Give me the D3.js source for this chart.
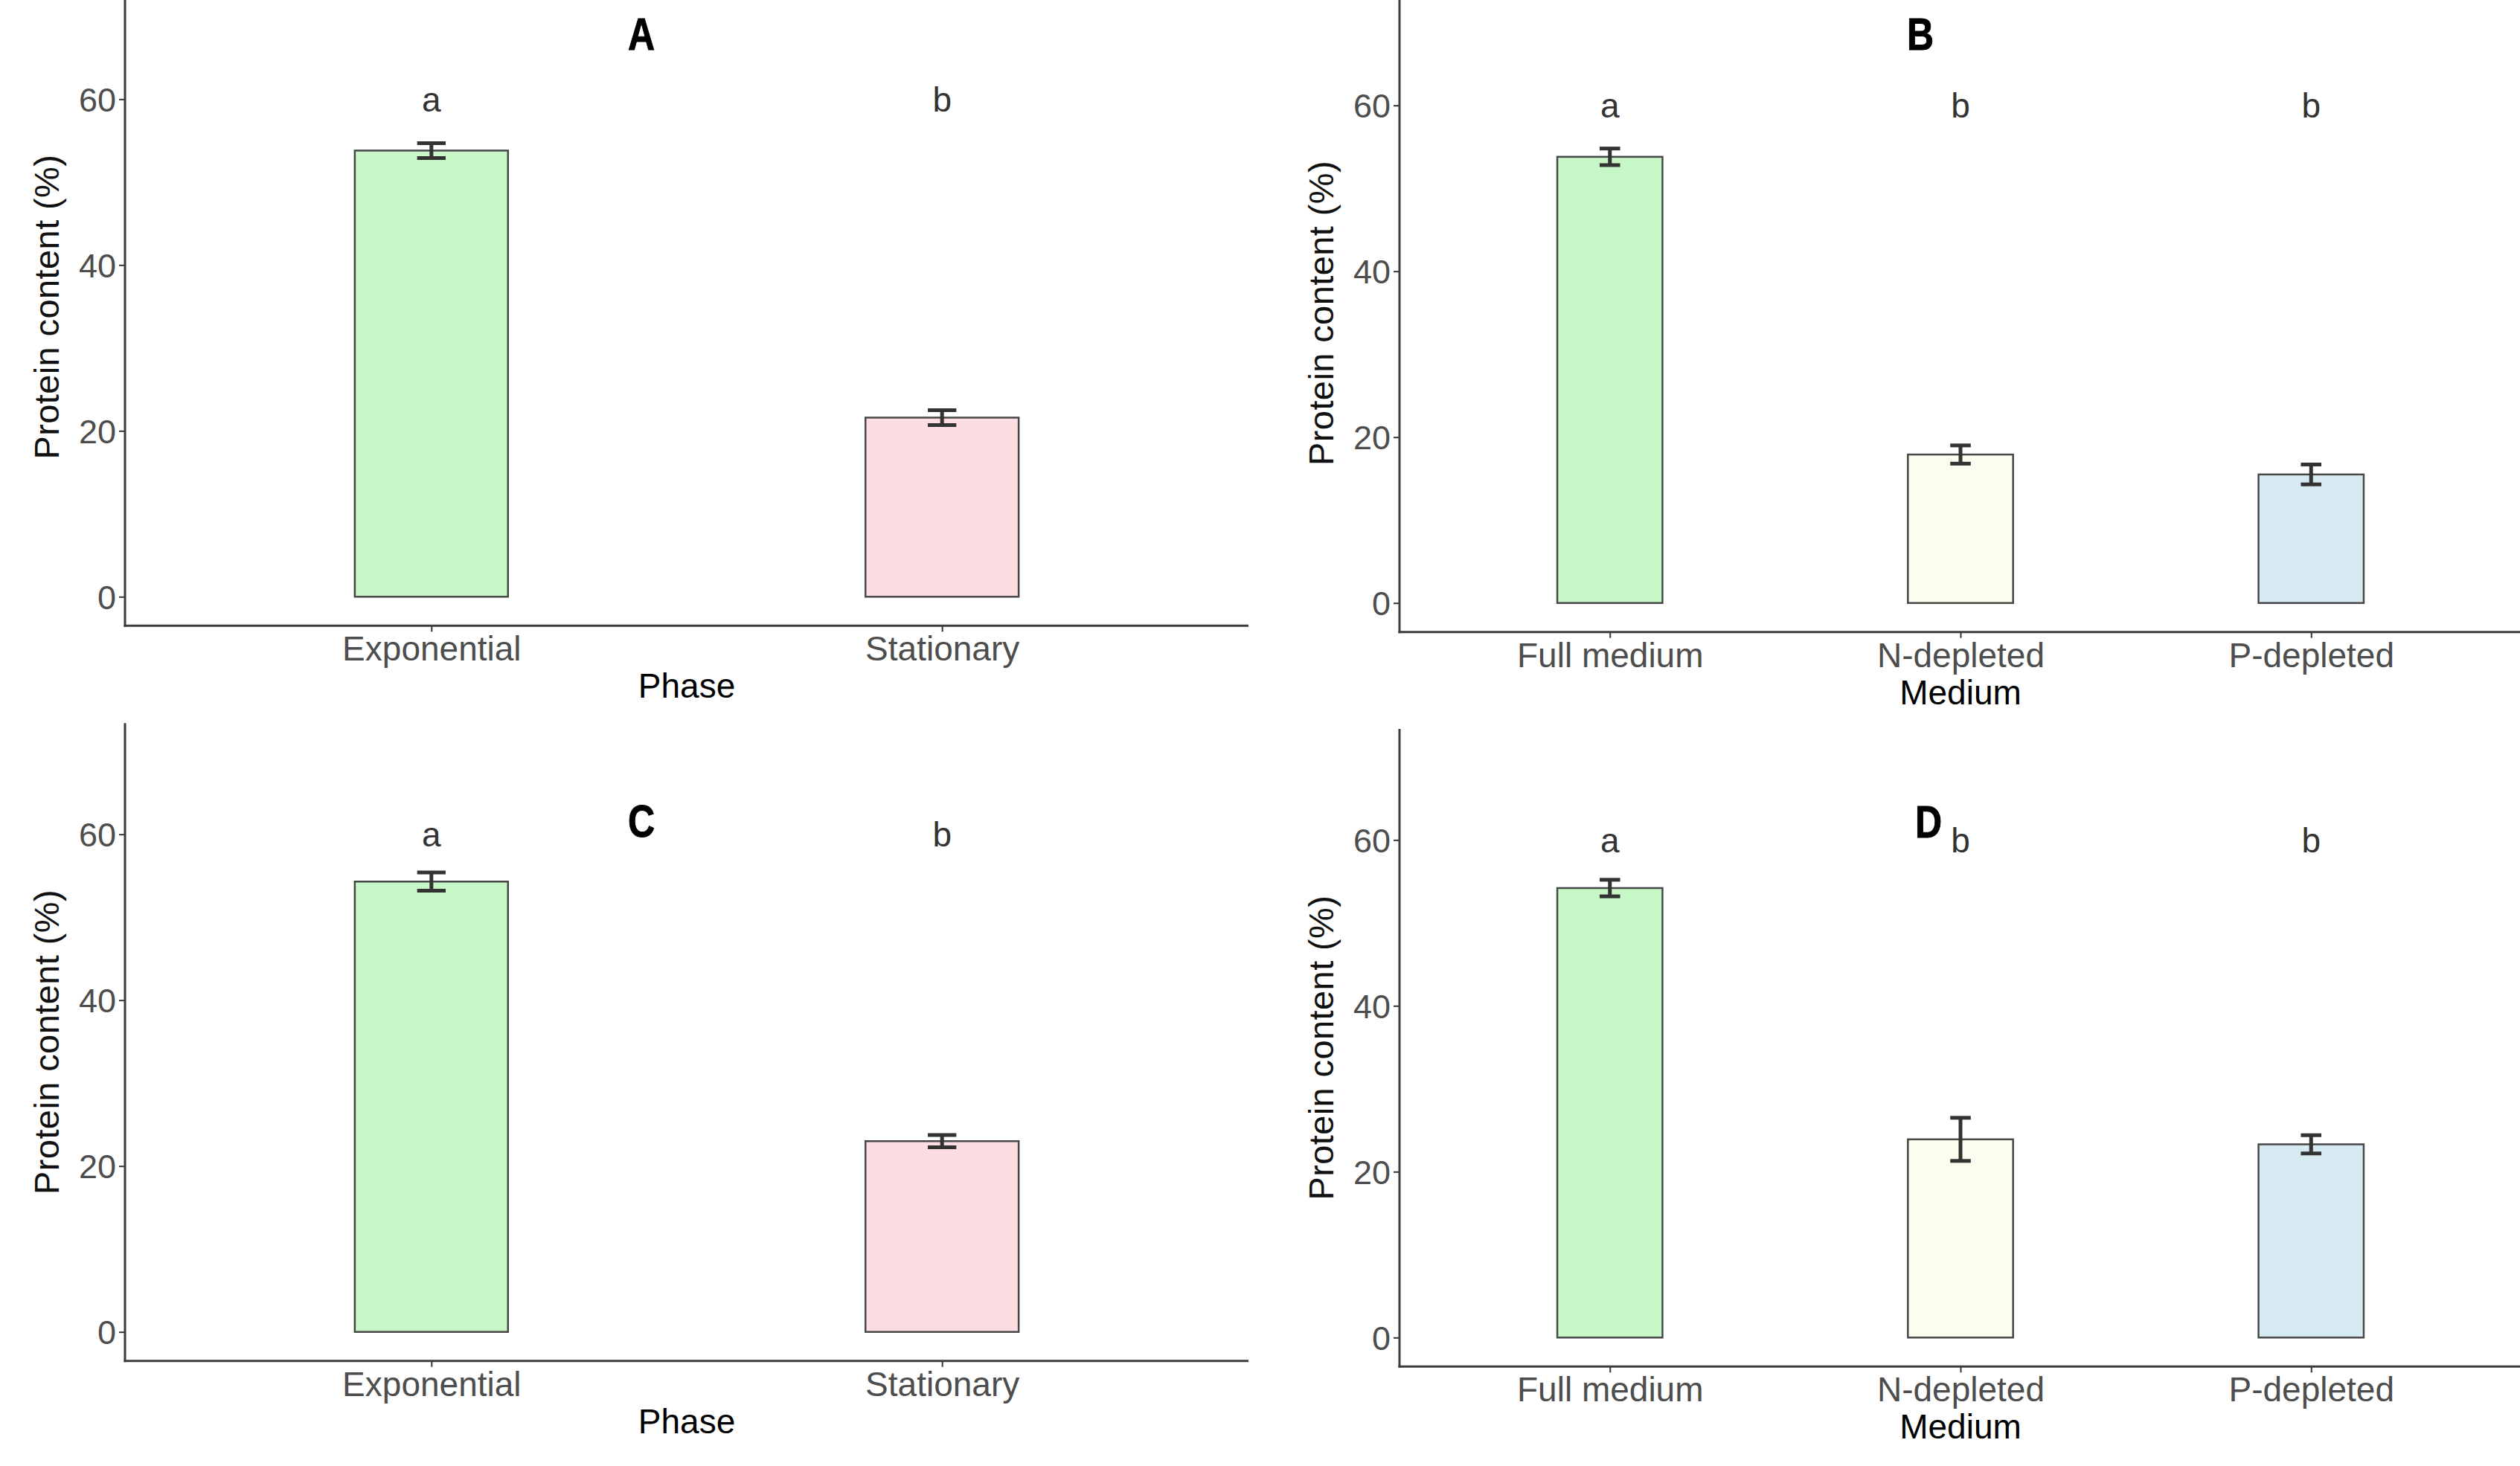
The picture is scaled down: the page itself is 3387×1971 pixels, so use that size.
<!DOCTYPE html>
<html>
<head>
<meta charset="utf-8">
<script src="https://cdn.jsdelivr.net/npm/d3@7"></script>
<style>
  html, body { margin: 0; padding: 0; background: #ffffff; }
  svg { display: block; }
</style>
</head>
<body>
<svg id="chart" width="3387" height="1971"></svg>
<script>
// ---------------- DATA ----------------
const phaseCategories  = ["Exponential", "Stationary"];
const mediumCategories = ["Full medium", "N-depleted", "P-depleted"];

const valuesA = [53.8, 21.6];
const errorsA = [0.9, 0.9];
const valuesB = [53.8, 17.9, 15.5];
const errorsB = [1.0, 1.1, 1.2];
const valuesC = [54.3, 23.0];
const errorsC = [1.1, 0.75];
const valuesD = [54.2, 23.9, 23.3];
const errorsD = [1.0, 2.6, 1.1];

const lettersPhase  = ["a", "b"];
const lettersMedium = ["a", "b", "b"];
const letterValue = 60;

const yTicks = [0, 20, 40, 60];
const yDomain = [-3.5, 73.4];

const fillsPhase  = ["#c7f6c7", "#fddce2"];
const fillsMedium = ["#c7f6c7", "#fcfdee", "#d7e9f1"];

const panelLetters = ["A", "B", "C", "D"];
const xTitles = ["Phase", "Medium", "Phase", "Medium"];
const yTitle = "Protein content (%)";

// ---------------- LAYOUT ----------------
const pxPerUnit = 11.15;
const panels = [
  { letter: panelLetters[0], cats: phaseCategories,  vals: valuesA, errs: errorsA, lets: lettersPhase,  fills: fillsPhase,  xTitle: xTitles[0],
    left: 168,  right: 1678, zeroY: 802.3,  letterX: 862,  letterY: 67 },
  { letter: panelLetters[1], cats: mediumCategories, vals: valuesB, errs: errorsB, lets: lettersMedium, fills: fillsMedium, xTitle: xTitles[1],
    left: 1881, right: 3389, zeroY: 810.7,  letterX: 2581, letterY: 67 },
  { letter: panelLetters[2], cats: phaseCategories,  vals: valuesC, errs: errorsC, lets: lettersPhase,  fills: fillsPhase,  xTitle: xTitles[2],
    left: 168,  right: 1678, zeroY: 1790.7, letterX: 862,  letterY: 1125 },
  { letter: panelLetters[3], cats: mediumCategories, vals: valuesD, errs: errorsD, lets: lettersMedium, fills: fillsMedium, xTitle: xTitles[3],
    left: 1881, right: 3389, zeroY: 1798.3, letterX: 2592, letterY: 1126 }
];

const svg = d3.select("#chart");
const FONT = "'Liberation Sans', Arial, Helvetica, sans-serif";
const BOLD_FONT = "'Liberation Sans', Arial, sans-serif";

panels.forEach(p => {
  const g = svg.append("g");

  const y = d3.scaleLinear()
    .domain(yDomain)
    .range([p.zeroY - yDomain[0] * pxPerUnit, p.zeroY - yDomain[1] * pxPerUnit]);

  const x = d3.scalePoint()
    .domain(p.cats)
    .range([p.left, p.right])
    .padding(0.6);

  const step = x.step();
  const barW = step * 0.3;
  const capW = step * 0.05;
  const axisY = y(yDomain[0]);
  const topY = y(yDomain[1]);

  const data = p.cats.map((c, i) => ({ cat: c, v: p.vals[i], e: p.errs[i], lab: p.lets[i], fill: p.fills[i] }));

  // bars
  g.selectAll("rect.bar").data(data).enter().append("rect")
    .attr("class", "bar")
    .attr("x", d => x(d.cat) - barW / 2)
    .attr("y", d => y(d.v))
    .attr("width", barW)
    .attr("height", d => y(0) - y(d.v))
    .attr("fill", d => d.fill)
    .attr("stroke", "#474747")
    .attr("stroke-width", 2.5);

  // error bars
  const eb = g.selectAll("g.err").data(data).enter().append("g").attr("class", "err")
    .attr("stroke", "#333333").attr("stroke-width", 5).attr("fill", "none");
  eb.append("line")
    .attr("x1", d => x(d.cat)).attr("x2", d => x(d.cat))
    .attr("y1", d => y(d.v + d.e)).attr("y2", d => y(d.v - d.e));
  eb.append("line")
    .attr("x1", d => x(d.cat) - capW / 2 - 2).attr("x2", d => x(d.cat) + capW / 2 + 2)
    .attr("y1", d => y(d.v + d.e)).attr("y2", d => y(d.v + d.e));
  eb.append("line")
    .attr("x1", d => x(d.cat) - capW / 2 - 2).attr("x2", d => x(d.cat) + capW / 2 + 2)
    .attr("y1", d => y(d.v - d.e)).attr("y2", d => y(d.v - d.e));

  // significance letters
  g.selectAll("text.sig").data(data).enter().append("text")
    .attr("class", "sig")
    .attr("x", d => x(d.cat))
    .attr("y", y(letterValue))
    .attr("dy", "0.36em")
    .attr("text-anchor", "middle")
    .attr("font-family", FONT)
    .attr("font-size", 46)
    .attr("fill", "#333333")
    .text(d => d.lab);

  // y axis
  const yAxis = d3.axisLeft(y).tickValues(yTicks).tickSize(8).tickPadding(4).tickFormat(d3.format("d"));
  const ya = g.append("g").attr("transform", `translate(${p.left},0)`).call(yAxis);
  ya.select(".domain").remove();
  ya.selectAll(".tick line").attr("stroke", "#333333").attr("stroke-width", 2);
  ya.selectAll(".tick text")
    .attr("font-family", FONT).attr("font-size", 45).attr("fill", "#4d4d4d")
    .attr("dy", "0.35em");

  // x axis
  const xAxis = d3.axisBottom(x).tickSize(8).tickPadding(0);
  const xa = g.append("g").attr("transform", `translate(0,${axisY})`).call(xAxis);
  xa.select(".domain").remove();
  xa.selectAll(".tick line").attr("stroke", "#333333").attr("stroke-width", 2);
  xa.selectAll(".tick text")
    .attr("font-family", FONT).attr("font-size", 46).attr("fill", "#4d4d4d")
    .attr("y", 47).attr("dy", 0);

  // axis lines
  g.append("line")
    .attr("x1", p.left).attr("x2", p.left)
    .attr("y1", topY).attr("y2", axisY + 1.5)
    .attr("stroke", "#3c3c3c").attr("stroke-width", 3);
  g.append("line")
    .attr("x1", p.left - 1.5).attr("x2", p.right)
    .attr("y1", axisY).attr("y2", axisY)
    .attr("stroke", "#3c3c3c").attr("stroke-width", 3);

  // axis titles
  g.append("text")
    .attr("x", (p.left + p.right) / 2)
    .attr("y", axisY + 97)
    .attr("text-anchor", "middle")
    .attr("font-family", FONT).attr("font-size", 46).attr("fill", "#000000")
    .text(p.xTitle);

  const yMid = (topY + axisY) / 2;
  const yTitleX = p.left - 105;
  g.append("text")
    .attr("transform", `translate(${yTitleX},${yMid}) rotate(-90)`)
    .attr("text-anchor", "middle")
    .attr("dy", "0.35em")
    .attr("font-family", FONT).attr("font-size", 47).attr("fill", "#111111")
    .attr("letter-spacing", 0.4)
    .text(yTitle);

  // panel letter (condensed bold)
  g.append("text")
    .attr("transform", `translate(${p.letterX},${p.letterY}) scale(0.82,1)`)
    .attr("text-anchor", "middle")
    .attr("font-family", BOLD_FONT).attr("font-weight", "bold")
    .attr("font-size", 61).attr("fill", "#000000")
    .attr("stroke", "#000000").attr("stroke-width", 1)
    .text(p.letter);
});
</script>
</body>
</html>
